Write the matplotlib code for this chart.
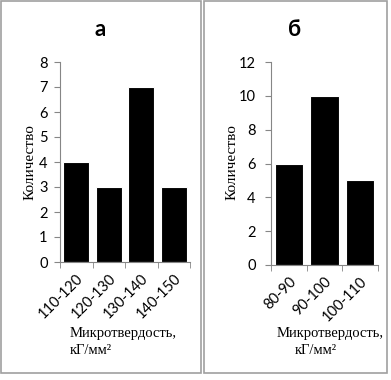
import numpy as np
import matplotlib
matplotlib.use('Agg')
import matplotlib.pyplot as plt
from matplotlib.patches import Rectangle

# panel а
cats_a = ['110-120', '120-130', '130-140', '140-150']
counts_a = [4, 3, 7, 3]
# panel б
cats_b = ['80-90', '90-100', '100-110']
counts_b = [6, 10, 5]

W, H = 391, 380
fig = plt.figure(figsize=(W / 100, H / 100), dpi=100)

tick_font = ['Lato', 'DejaVu Sans']
serif = 'Liberation Serif'
grey = '#868686'


def box(x0, y0, x1, y1):
    # pixel coordinates, origin top-left
    fig.patches.append(Rectangle((x0 / W, 1 - y1 / H), (x1 - x0) / W, (y1 - y0) / H,
                                 transform=fig.transFigure, fill=False,
                                 edgecolor='#a0a0a0', linewidth=1.2))


def panel(px, cats, counts, ymax, ystep, title, tx, ylx, xl1, xl2, ypad):
    x0, y0, x1, y1 = px
    ax = fig.add_axes([x0 / W, 1 - y1 / H, (x1 - x0) / W, (y1 - y0) / H])
    n = len(cats)
    ind = np.arange(n)
    ax.bar(ind, counts, 0.8, color='black', edgecolor='white', linewidth=0.8)
    ax.set_xlim(-0.5, n - 0.5)
    ax.set_ylim(0, ymax)
    ax.set_yticks(np.arange(0, ymax + 1, ystep))
    ax.set_xticks(ind)
    ax.set_xticks(np.arange(-0.5, n, 1.0), minor=True)
    ax.set_xticklabels(cats, rotation=45, ha='right', rotation_mode='anchor',
                       family=tick_font, fontsize=10.5)
    for lab in ax.get_yticklabels():
        lab.set_family(tick_font)
        lab.set_fontsize(10.5)
    ax.tick_params(axis='x', which='major', length=0, pad=7)
    ax.tick_params(axis='x', which='minor', length=4, color=grey)
    ax.tick_params(axis='y', length=4, color=grey, pad=ypad)
    for s in ['top', 'right']:
        ax.spines[s].set_visible(False)
    for s in ['left', 'bottom']:
        ax.spines[s].set_color(grey)
    fig.text(tx / W, 1 - 30 / H, title, ha='center', va='center',
             fontsize=16, fontweight='bold', family=tick_font)
    fig.text(ylx / W, 1 - 162 / H, 'Количество', rotation=90, ha='center',
             va='center', fontsize=11, family=serif)
    fig.text(xl1 / W, 1 - 333 / H, 'Микротвердость,', ha='left', va='center',
             fontsize=10.5, family=serif)
    fig.text(xl2 / W, 1 - 351 / H, 'кГ/мм²', ha='left', va='center',
             fontsize=10.5, family=serif)


box(1, 1, 201, 373)
box(204, 1, 387, 373)

panel((60, 62, 190, 262), cats_a, counts_a, 8, 1, 'а', 100, 30, 70, 70, 5)
panel((271, 62, 378, 265), cats_b, counts_b, 12, 2, 'б', 295, 232, 277, 295, 7)

fig.savefig('out.png', dpi=100)
